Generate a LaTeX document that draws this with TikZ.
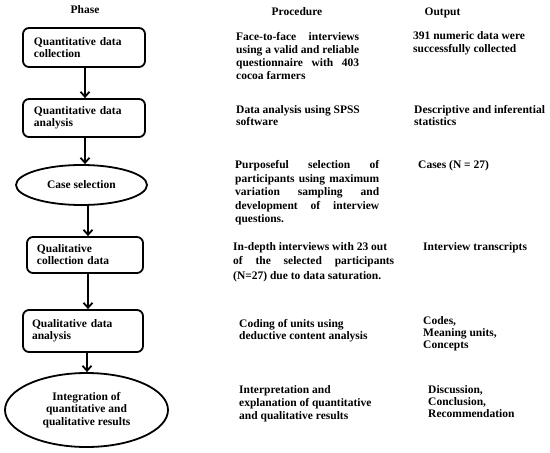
\documentclass[tikz,border=0pt]{standalone}
\usepackage{fontspec}
\setmainfont{Liberation Serif}
\usetikzlibrary{arrows.meta,shapes.geometric}
\newcommand{\jl}[2]{\makebox[#1][s]{#2}}
\begin{document}
\begin{tikzpicture}[x=1pt,y=-1pt,
  box/.style={draw, line width=1.8pt, rounded corners=6pt, align=left, inner xsep=11pt, inner ysep=0pt, font=\bfseries\fontsize{11.5}{12}\selectfont},
  oval/.style={draw, ellipse, line width=1.8pt, align=center, inner sep=0pt, font=\bfseries\fontsize{11.5}{12.5}\selectfont},
  txt/.style={anchor=north west, inner sep=0pt, align=left, font=\bfseries\fontsize{11.5}{#1}\selectfont},
  txt/.default=13,
  head/.style={anchor=base, inner sep=0pt, font=\bfseries\fontsize{11.5}{13}\selectfont},
  arr/.style={line width=1.8pt, -{Straight Barb[length=5pt,width=9pt]}}]
\useasboundingbox (0,0) rectangle (550,453);

% headers
\node[head] (h1) at (85,13) {Phase};
\node[head] (h2) at (297,15) {Procedure};
\node[head] (h3) at (442.5,15) {Output};

% phase column
\node[box, text width=100pt, minimum height=39pt] (b1) at (84,47.5) {Quantitative data\\collection};
\node[box, text width=100pt, minimum height=38pt] (b2) at (84,118) {Quantitative data\\analysis};
\node[oval, minimum width=131pt, minimum height=40pt] (e1) at (81.5,185) {Case selection};
\node[box, inner xsep=10pt, text width=96pt, minimum height=36pt] (b3) at (85,255) {Qualitative\\collection data};
\node[box, inner xsep=9pt, text width=102pt, minimum height=42pt] (b4) at (83,331) {Qualitative data\\analysis};
\node[oval, minimum width=163pt, minimum height=74pt] (e2) at (86.5,410) {Integration of\\quantitative and\\qualitative results};

% connectors
\draw[arr] ([xshift=1pt]b1.south) -- ([xshift=1pt]b2.north);
\draw[arr] ([xshift=1pt]b2.south) -- ([xshift=1pt]b2.south |- e1.north);
\draw[arr] ([xshift=3pt]b3.north |- e1.south) -- ([xshift=3pt]b3.north);
\draw[arr] ([xshift=3pt]b3.south) -- ([xshift=3pt]b3.south |- b4.north);
\draw[arr] ([xshift=4pt]b4.south) -- ([xshift=4pt]b4.south |- e2.north);

% procedure column
\node[txt=13] (p1) at (236,32) {\jl{123pt}{Face-to-face interviews}\\\jl{123pt}{using a valid and reliable}\\\jl{123pt}{questionnaire with 403}\\cocoa farmers};
\node[txt=12] (p2) at (236,105) {Data analysis using SPSS\\software};
\node[txt=13.4] (p3) at (235,160.5) {\jl{144pt}{Purposeful selection of}\\\jl{144pt}{participants using maximum}\\\jl{144pt}{variation sampling and}\\\jl{144pt}{development of interview}\\questions.};
\node[txt=14.5] (p4) at (233,242) {In-depth interviews with 23 out\\\jl{161pt}{of the selected participants}\\(N=27) due to data saturation.};
\node[txt=12] (p5) at (239,319) {Coding of units using\\deductive content analysis};
\node[txt=13] (p6) at (239,385) {Interpretation and\\explanation of quantitative\\and qualitative results};

% output column
\node[txt=13] (o1) at (413,31) {391 numeric data were\\successfully collected};
\node[txt=12] (o2) at (414,105) {Descriptive and inferential\\statistics};
\node[txt=13] (o3) at (418,160) {Cases (N = 27)};
\node[txt=13] (o4) at (423,242) {Interview transcripts};
\node[txt=12] (o5) at (423,316) {Codes,\\Meaning units,\\Concepts};
\node[txt=12] (o6) at (428,385) {Discussion,\\Conclusion,\\Recommendation};
\end{tikzpicture}
\end{document}
